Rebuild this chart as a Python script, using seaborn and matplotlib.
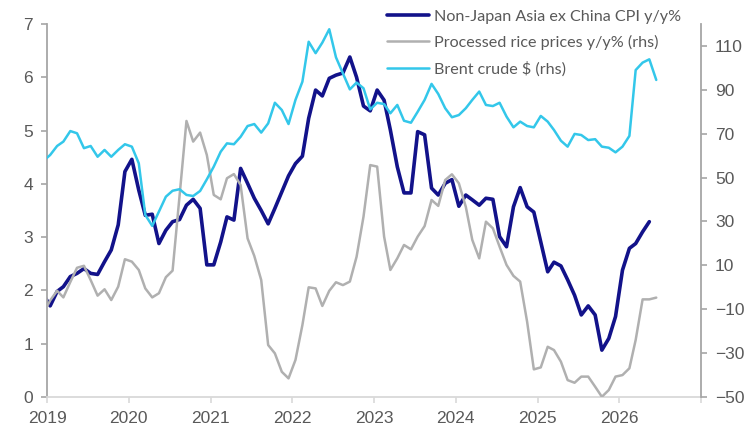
import pandas as pd
import seaborn as sns
import matplotlib.pyplot as plt

# monthly readings from Dec 2018 to mid 2026 (points sit mid-month)
cpi = [1.93,
       1.71, 1.98, 2.07, 2.26, 2.32, 2.41, 2.32, 2.30, 2.54, 2.76, 3.23, 4.23,
       4.46, 3.88, 3.41, 3.43, 2.88, 3.13, 3.29, 3.33, 3.60, 3.71, 3.54, 2.48,
       2.48, 2.91, 3.38, 3.32, 4.29, 4.01, 3.73, 3.50, 3.25, 3.54, 3.85, 4.15,
       4.38, 4.52, 5.23, 5.76, 5.65, 5.98, 6.04, 6.08, 6.38, 6.00, 5.46, 5.37,
       5.76, 5.57, 5.01, 4.32, 3.83, 3.83, 4.98, 4.92, 3.92, 3.79, 4.01, 4.08,
       3.58, 3.79, 3.70, 3.60, 3.73, 3.71, 3.01, 2.82, 3.57, 3.93, 3.57, 3.47,
       2.91, 2.35, 2.53, 2.46, 2.20, 1.91, 1.54, 1.71, 1.54, 0.88, 1.10, 1.51,
       2.38, 2.79, 2.88, 3.10, 3.29]
rice = [-12.0,
        -6.0, -1.6, -4.6, 2.4, 8.9, 9.8, 3.3, -3.8, -0.9, -5.8, 0.3, 12.8,
        11.7, 7.9, -0.5, -4.6, -2.7, 4.6, 7.6, 41.5, 75.8, 66.4, 70.5, 60.3,
        42.1, 40.1, 49.7, 51.6, 46.6, 22.3, 14.3, 3.3, -26.3, -30.1, -38.5, -41.5,
        -33.1, -17.2, 0.0, -0.5, -8.5, -1.6, 2.3, 1.0, 2.6, 13.9, 32.2, 55.7,
        55.0, 23.1, 7.9, 13.2, 19.3, 17.3, 23.1, 27.9, 39.8, 37.1, 48.9, 51.5,
        47.4, 36.7, 21.6, 13.2, 29.9, 26.9, 18.5, 10.2, 5.2, 2.6, -15.7, -37.4,
        -36.5, -27.1, -28.6, -33.9, -42.3, -43.5, -40.7, -40.7, -45.3, -49.9, -46.8, -40.7,
        -40.0, -36.9, -24.0, -5.5, -5.5, -4.7]
brent = [57.5,
         60.3, 64.4, 66.4, 71.2, 70.2, 63.4, 64.4, 59.5, 62.6, 59.5, 62.6, 65.2,
         64.1, 56.5, 33.0, 28.0, 34.5, 41.3, 44.0, 44.7, 42.1, 41.6, 43.9, 49.2,
         55.0, 61.8, 65.6, 65.2, 68.6, 73.5, 74.4, 70.5, 74.7, 84.1, 80.8, 74.4,
         85.4, 93.7, 111.9, 106.7, 111.5, 117.6, 104.8, 97.5, 90.2, 93.3, 90.7, 81.1,
         84.1, 83.5, 79.3, 83.1, 75.9, 75.0, 80.0, 85.4, 92.7, 88.1, 81.6, 77.5,
         78.5, 81.6, 85.4, 89.2, 83.1, 82.6, 84.1, 77.8, 72.9, 75.5, 73.5, 72.9,
         78.1, 75.5, 71.7, 66.8, 64.1, 69.9, 69.4, 67.1, 67.5, 64.1, 63.6, 61.5,
         64.1, 69.0, 99.0, 102.4, 103.9, 94.5]

labels = ["Non-Japan Asia ex China CPI y/y%",
          "Processed rice prices y/y% (rhs)",
          "Brent crude $ (rhs)"]
years = list(range(2019, 2028))
year_labels = [str(y) for y in years[:-1]] + [""]
left_ticks = list(range(0, 8))
right_ticks = list(range(-50, 111, 20))

NAVY = "#12128a"
GREY = "#b0b0b0"
CYAN = "#33c7ea"
TXT = "#595959"


def mid_months(n):
    return pd.date_range("2018-12-01", periods=n, freq="MS") + pd.Timedelta(days=14)


sns.set_theme(style="white")
plt.rcParams["font.family"] = ["Liberation Sans", "DejaVu Sans"]

fig = plt.figure(figsize=(7.5, 4.36), dpi=100)
ax = fig.add_axes([0.0627, 0.0894, 0.872, 0.8556])
ax2 = ax.twinx()

sns.lineplot(x=mid_months(len(cpi)), y=cpi, ax=ax, color=NAVY, linewidth=2.6, label=labels[0], legend=False)
sns.lineplot(x=mid_months(len(rice)), y=rice, ax=ax2, color=GREY, linewidth=1.8, label=labels[1], legend=False)
sns.lineplot(x=mid_months(len(brent)), y=brent, ax=ax2, color=CYAN, linewidth=1.8, label=labels[2], legend=False)

# axes limits / ticks
ax.set_xlim(pd.Timestamp("2019-01-01"), pd.Timestamp("2027-01-01"))
ax.set_ylim(0, 7)
ax2.set_ylim(-50, 120)
ax.set_xticks([pd.Timestamp(f"{y}-01-01") for y in years])
ax.set_xticklabels(year_labels)
ax.set_yticks(left_ticks)
ax2.set_yticks(right_ticks)
ax.set_xlabel("")
ax.set_ylabel("")
ax2.set_ylabel("")

for a in (ax, ax2):
    for s in a.spines.values():
        s.set_visible(False)
ax.spines["left"].set_visible(True)
ax.spines["left"].set_color("#a6a6a6")
ax.spines["left"].set_linewidth(1.3)
ax.spines["bottom"].set_visible(True)
ax.spines["bottom"].set_color("#d9d9d9")
ax.spines["bottom"].set_linewidth(1.3)
ax2.spines["right"].set_visible(True)
ax2.spines["right"].set_color("#a6a6a6")
ax2.spines["right"].set_linewidth(1.3)

ax.tick_params(axis="y", direction="out", length=4, width=1.2, color="#a6a6a6",
               labelsize=12.5, labelcolor=TXT, pad=6, left=True)
ax.tick_params(axis="x", direction="out", length=4, width=1.2, color="#d9d9d9",
               labelsize=12.5, labelcolor=TXT, pad=6, bottom=True)
ax2.tick_params(axis="y", direction="out", length=4, width=1.2, color="#a6a6a6",
                labelsize=12.5, labelcolor=TXT, pad=6, right=True)
ax.grid(False)
ax2.grid(False)

# legend, no frame, top right inside plot
h1, l1 = ax.get_legend_handles_labels()
h2, l2 = ax2.get_legend_handles_labels()
leg = fig.legend(h1 + h2, l1 + l2, loc="upper left", bbox_to_anchor=(0.497, 1.011),
                 frameon=False, handlelength=2.6, handletextpad=0.3, labelspacing=0.68,
                 prop={"family": ["Lato", "DejaVu Sans"], "size": 11.6})
for t in leg.get_texts():
    t.set_color(TXT)

plt.savefig("out.png", dpi=100)
plt.close()
